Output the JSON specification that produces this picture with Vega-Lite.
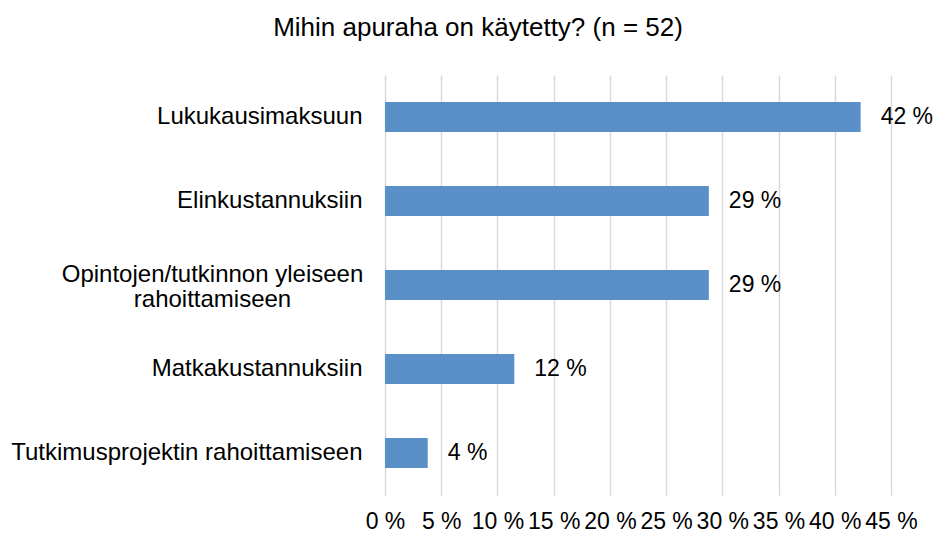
{
  "$schema": "https://vega.github.io/schema/vega-lite/v6.json",
  "width": 506,
  "height": 420,
  "autosize": {"type": "none"},
  "padding": {"left": 385, "top": 75, "right": 47, "bottom": 40},
  "background": "white",
  "config": {"view": {"stroke": null}, "font": "Liberation Sans"},
  "title": {"text": "Mihin apuraha on käytetty? (n = 52)", "font": "Liberation Sans", "fontSize": 26, "fontWeight": "normal", "color": "#000000", "anchor": "middle", "dx": -160, "offset": 34},
  "data": {"values": [
    {"category": "Lukukausimaksuun", "share": 0.423},
    {"category": "Elinkustannuksiin", "share": 0.288},
    {"category": "Opintojen/tutkinnon yleiseen rahoittamiseen", "share": 0.288},
    {"category": "Matkakustannuksiin", "share": 0.115},
    {"category": "Tutkimusprojektin rahoittamiseen", "share": 0.038}
  ]},
  "transform": [{"calculate": "round(datum.share*100) + ' %'", "as": "label"}],
  "encoding": {
    "y": {"field": "category", "type": "nominal", "sort": null,
      "scale": {"paddingInner": 0.64, "paddingOuter": 0.32},
      "axis": {"title": null, "domain": false, "ticks": false, "grid": false, "labelFontSize": 24, "labelColor": "#000000", "labelLimit": 400,
        "labelExpr": "datum.label == 'Opintojen/tutkinnon yleiseen rahoittamiseen' ? ['Opintojen/tutkinnon yleiseen', 'rahoittamiseen'] : datum.label",
        "labelLineHeight": 25,
        "labelAlign": {"condition": {"test": "datum.value == 'Opintojen/tutkinnon yleiseen rahoittamiseen'", "value": "center"}, "value": "right"},
        "labelPadding": {"condition": {"test": "datum.value == 'Opintojen/tutkinnon yleiseen rahoittamiseen'", "value": 173}, "value": 23},
        "labelOffset": {"condition": {"test": "datum.value == 'Opintojen/tutkinnon yleiseen rahoittamiseen'", "value": -10}, "value": 0}}},
    "x": {"field": "share", "type": "quantitative",
      "scale": {"domain": [0, 0.45], "nice": false},
      "axis": {"title": null, "domain": false, "ticks": false, "values": [0, 0.05, 0.1, 0.15, 0.2, 0.25, 0.3, 0.35, 0.4, 0.45],
        "labelExpr": "round(datum.value*100) + ' %'", "labelFontSize": 23, "labelColor": "#000000", "labelPadding": 15,
        "gridColor": "#d9d9d9", "gridWidth": 1.5, "labelFlush": false, "labelOverlap": false}}
  },
  "layer": [
    {"mark": {"type": "bar", "color": "#5b8fc7"}},
    {"mark": {"type": "text", "align": "left", "baseline": "middle", "dx": 20, "fontSize": 23, "color": "#000000"},
      "encoding": {"text": {"field": "label"}}}
  ]
}
